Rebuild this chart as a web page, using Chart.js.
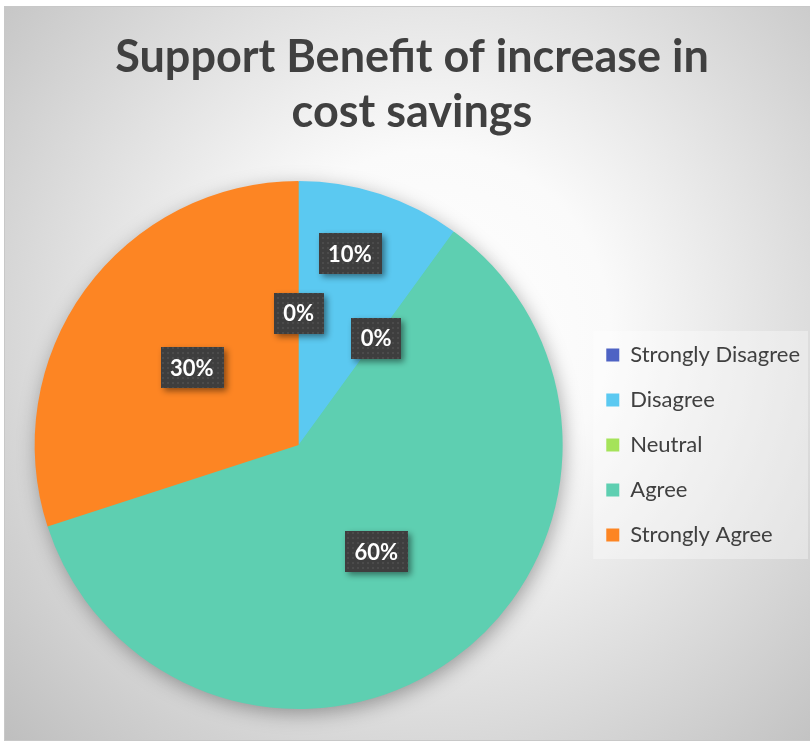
<!DOCTYPE html>
<html>
<head>
<meta charset="utf-8">
<title>Support Benefit of increase in cost savings</title>
<script src="https://cdn.jsdelivr.net/npm/chart.js@4.4.1/dist/chart.umd.min.js"></script>
<style>
  html, body { margin: 0; padding: 0; background: #fff; }
  #wrap { width: 810px; height: 744px; }
</style>
</head>
<body>
<div id="wrap"><canvas id="myChart" width="810" height="744"></canvas></div>
<script>
const titleLines = ["Support Benefit of increase in", "cost savings"];
const categories = ["Strongly Disagree", "Disagree", "Neutral", "Agree", "Strongly Agree"];
const shares = [0, 10, 0, 60, 30]; // percent of responses
const sliceColors = ["#4e63c4", "#5bc9f1", "#a5e35a", "#5ecfb1", "#fd8523"];

// dotted dark fill used behind the value labels
function makeLabelPattern(ctx) {
  const c = document.createElement("canvas");
  c.width = 5;
  c.height = 5;
  const p = c.getContext("2d");
  p.fillStyle = "#3e3e3e";
  p.fillRect(0, 0, 5, 5);
  p.fillStyle = "#4b4b4b";
  p.fillRect(2, 2, 2, 2);
  return ctx.createPattern(c, "repeat");
}

const backdrop = {
  id: "backdrop",
  beforeDraw(chart) {
    const { ctx, width, height } = chart;
    ctx.save();
    ctx.fillStyle = "#fff";
    ctx.fillRect(0, 0, width, height);
    const g = ctx.createRadialGradient(430, 330, 0, 430, 330, 600);
    g.addColorStop(0, "#ffffff");
    g.addColorStop(0.3, "#fafafa");
    g.addColorStop(1, "#bdbdbd");
    ctx.fillStyle = g;
    ctx.fillRect(4, 6, width - 4, 734);
    ctx.strokeStyle = "#c8c8c8";
    ctx.lineWidth = 1;
    ctx.strokeRect(4.5, 6.5, width, 734);

    // light panel behind the legend
    const boxes = chart.legend && chart.legend.legendHitBoxes;
    if (boxes && boxes.length) {
      const first = boxes[0];
      const last = boxes[boxes.length - 1];
      ctx.fillStyle = "rgba(255,255,255,0.35)";
      ctx.fillRect(first.left - 13, first.top - 13, 808 - (first.left - 13), last.top + last.height - first.top + 26);
    }
    ctx.restore();
  },
  beforeDatasetsDraw(chart) {
    // soft drop shadow under the whole pie
    const arc = chart.getDatasetMeta(0).data[0];
    if (!arc) return;
    const { ctx } = chart;
    ctx.save();
    ctx.shadowColor = "rgba(0,0,0,0.35)";
    ctx.shadowBlur = 20;
    ctx.shadowOffsetX = 2;
    ctx.shadowOffsetY = 5;
    ctx.fillStyle = "#5ecfb1";
    ctx.beginPath();
    ctx.arc(arc.x, arc.y, arc.outerRadius - 1, 0, Math.PI * 2);
    ctx.fill();
    ctx.restore();
  }
};

const valueLabels = {
  id: "valueLabels",
  afterDatasetsDraw(chart, args, opts) {
    const { ctx } = chart;
    const meta = chart.getDatasetMeta(0);
    const data = chart.data.datasets[0].data;
    const pattern = makeLabelPattern(ctx);
    ctx.save();
    ctx.font = "bold 22px Lato";
    ctx.textAlign = "center";
    ctx.textBaseline = "middle";
    meta.data.forEach((arc, i) => {
      const p = arc.getProps(["x", "y", "startAngle", "endAngle", "outerRadius"], true);
      // label sits along the slice's mid angle; small slices get pushed outward
      const nudge = ((opts.turn && opts.turn[i]) || 0) * Math.PI / 180;
      const mid = (p.startAngle + p.endAngle) / 2 + nudge;
      const k = (opts.radius && opts.radius[i]) || 0.5;
      const cx = p.x + Math.cos(mid) * p.outerRadius * k;
      const cy = p.y + Math.sin(mid) * p.outerRadius * k;
      const text = data[i] + "%";
      const w = ctx.measureText(text).width + 19;
      const h = 41;
      ctx.save();
      ctx.shadowColor = "rgba(0,0,0,0.45)";
      ctx.shadowBlur = 6;
      ctx.shadowOffsetX = 3;
      ctx.shadowOffsetY = 3;
      ctx.fillStyle = pattern;
      ctx.fillRect(Math.round(cx - w / 2), Math.round(cy - h / 2), Math.round(w), h);
      ctx.restore();
      ctx.fillStyle = "#ffffff";
      ctx.fillText(text, cx, cy + 1);
    });
    ctx.restore();
  }
};

document.addEventListener("DOMContentLoaded", () => {
  const ctx = document.getElementById("myChart").getContext("2d");

  new Chart(ctx, {
    type: "pie",
    data: {
      labels: categories,
      datasets: [{
        data: shares,
        backgroundColor: sliceColors,
        borderWidth: 0
      }]
    },
    options: {
      responsive: false,
      animation: false,
      layout: { padding: { top: 0, left: 14, right: 0, bottom: 35 } },
      plugins: {
        title: {
          display: true,
          text: titleLines,
          color: "#404040",
          font: { family: "Lato", size: 45, weight: "bold", lineHeight: 55 / 45 },
          padding: { top: 30, bottom: 41 }
        },
        legend: {
          position: "right",
          fullSize: false,
          labels: {
            color: "#404040",
            font: { family: "Lato", size: 22 },
            boxWidth: 13,
            boxHeight: 13,
            padding: 23
          }
        },
        tooltip: { enabled: false },
        valueLabels: {
          radius: [0.5, 0.75, 0.5, 0.5, 0.5],
          turn: [0, -3, 0, 0, 0]
        }
      }
    },
    plugins: [backdrop, valueLabels]
  });
});
</script>
</body>
</html>
